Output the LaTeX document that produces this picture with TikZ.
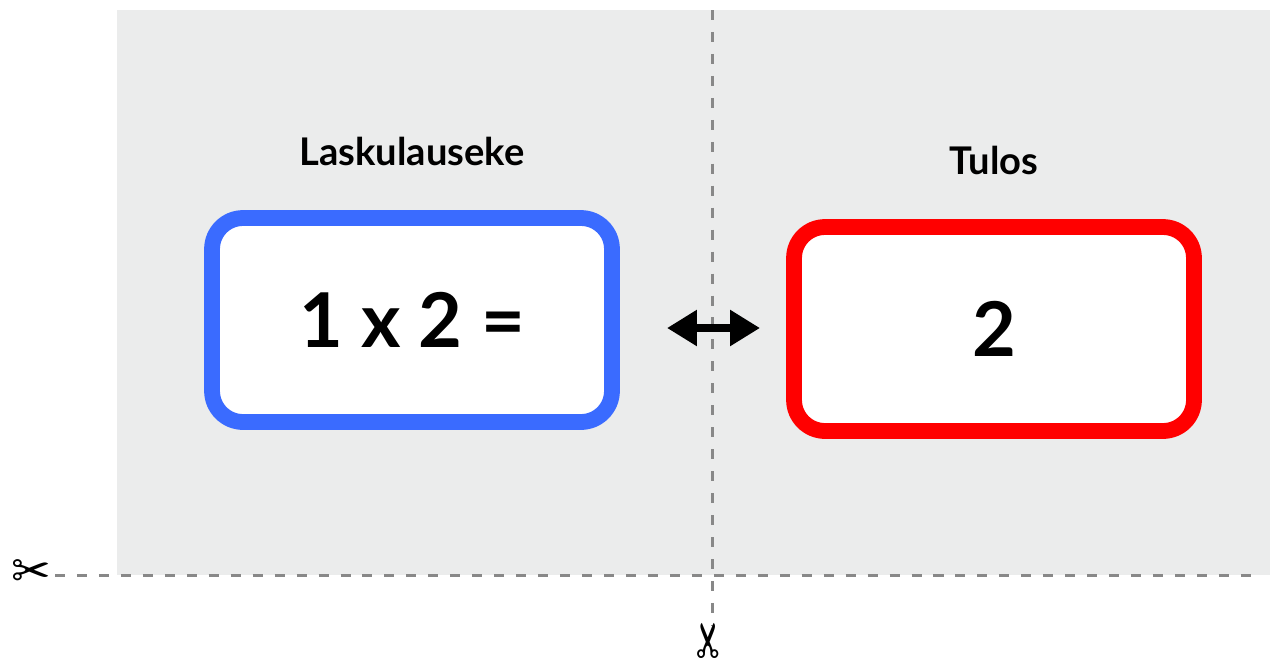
\documentclass[tikz,border=0pt]{standalone}
\usepackage{fontspec}
\setmainfont{Lato}
\newfontfamily\symfont{DejaVu Sans}
\usetikzlibrary{arrows.meta,positioning}
\definecolor{bggrey}{RGB}{235,236,236}
\definecolor{cutgrey}{RGB}{136,136,136}
\definecolor{exprblue}{RGB}{58,107,255}
\definecolor{resultred}{RGB}{255,0,0}
\tikzset{
  card/.style={draw, line width=9pt, fill=white, rounded corners=0.62cm,
    minimum width=8cm, minimum height=4.08cm,
    font=\bfseries\fontsize{43}{43}\selectfont},
  heading/.style={font=\bfseries\fontsize{21.7}{22}\selectfont, inner sep=0pt},
  cutline/.style={draw=cutgrey, line width=1.7pt, dash pattern=on 5.7pt off 6.8pt},
  scissors/.style={font=\symfont\fontsize{27}{27}\selectfont, inner sep=0pt},
  swap/.style={line width=4.8pt,
    {Triangle[length=17pt,width=19.5pt]}-{Triangle[length=17pt,width=19.5pt]}}
}
\begin{document}
\begin{tikzpicture}[x=0.02cm, y=-0.02cm]
	\useasboundingbox (0,0) rectangle (1270,660);
	\fill[bggrey] (117,10) rectangle (1270,575);
	% cut lines
	\coordinate (cutL) at (55,575);
	\coordinate (cutR) at (1253,575);
	\coordinate (cutT) at (712,10);
	\coordinate (cutB) at (712,625);
	\draw[cutline] (cutL) -- (cutR);
	\draw[cutline] (cutT) -- (cutB);
	\node[scissors] (cutleft) at (31,574) {✂};
	\node[scissors, rotate=90] (cutbottom) at (712,641) {✂};
	% cards
	\node[card, draw=exprblue] (expr) at (412,320) {1 x 2 =};
	\node[card, draw=resultred] (result) at (994,329) {2};
	\node[heading, above=0.88cm of expr] (exprlabel) {Laskulauseke};
	\node[heading, above=0.88cm of result] (resultlabel) {Tulos};
	% arrow
	\coordinate (swapL) at (667,328);
	\coordinate (swapR) at (760,328);
	\draw[swap] (swapL) -- (swapR);
\end{tikzpicture}
\end{document}
